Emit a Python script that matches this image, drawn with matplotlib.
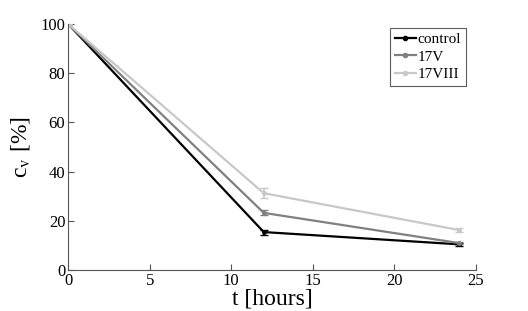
import matplotlib
matplotlib.use("Agg")
import matplotlib.pyplot as plt
from matplotlib.lines import Line2D

t = [0, 12, 24]
control = [100, 15.4, 10.4]
control_err = [0, 1.0, 0.6]
v17 = [100, 23.2, 10.9]
v17_err = [0, 1.0, 0.5]
v17viii = [100, 31.2, 16.2]
v17viii_err = [0, 2.0, 0.7]
labels = ["control", "17V", "17VIII"]
colors = ["#000000", "#808080", "#c8c8c8"]

plt.rcParams['font.family'] = ['Liberation Serif', 'DejaVu Serif']
plt.rcParams['mathtext.fontset'] = 'stix'

fig = plt.figure(figsize=(5.28, 3.11), dpi=100)
ax = fig.add_axes([0.129, 0.132, 0.772, 0.791])

series = [control, v17, v17viii]
errs = [control_err, v17_err, v17viii_err]
handles = []
for y, e, lab, c in zip(series, errs, labels, colors):
    ax.errorbar(t, y, yerr=e, color=c, lw=1.6, marker='.', markersize=5,
                capsize=3, elinewidth=1.2)
    handles.append(Line2D([], [], color=c, lw=1.6, marker='.', markersize=6))

ax.set_xlim(0, 25)
ax.set_ylim(0, 100)
ax.set_xticks([0, 5, 10, 15, 20, 25])
ax.set_yticks([0, 20, 40, 60, 80, 100])
for s in ['top', 'right']:
    ax.spines[s].set_visible(False)
for s in ['left', 'bottom']:
    ax.spines[s].set_color('#555555')
ax.tick_params(direction='in', length=4, color='#555555', labelsize=12, pad=2)
ax.set_xlabel('t [hours]', fontsize=17, labelpad=0)
ax.set_ylabel(r'c$_{\mathrm{v}}$ [%]', fontsize=17, labelpad=6)

leg = ax.legend(handles, labels, loc='upper right',
                bbox_to_anchor=(0.975, 0.984), fontsize=11,
                frameon=True, fancybox=False, edgecolor='#333333',
                handlelength=1.4, handletextpad=0.1, borderpad=0.3,
                labelspacing=0.25, borderaxespad=0.0)
leg.get_frame().set_linewidth(0.8)

fig.savefig('out.png', dpi=100)
